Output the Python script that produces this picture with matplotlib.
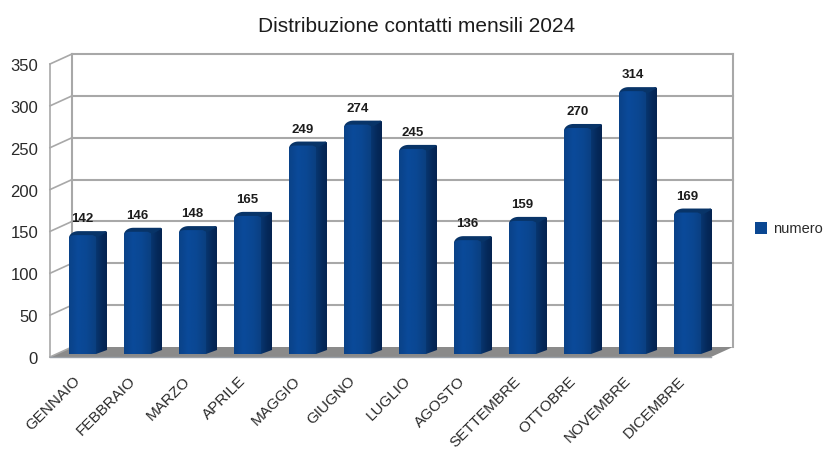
import numpy as np
import matplotlib
matplotlib.use("Agg")
import matplotlib.pyplot as plt
from matplotlib.colors import LinearSegmentedColormap
from matplotlib.patches import Polygon, Patch

mesi = ["GENNAIO", "FEBBRAIO", "MARZO", "APRILE", "MAGGIO", "GIUGNO", "LUGLIO",
        "AGOSTO", "SETTEMBRE", "OTTOBRE", "NOVEMBRE", "DICEMBRE"]
numero = [142, 146, 148, 165, 249, 274, 245, 136, 159, 270, 314, 169]
yticks = [0, 50, 100, 150, 200, 250, 300, 350]

plt.rcParams['font.family'] = ['Liberation Sans', 'DejaVu Sans']

W, H = 824, 449
fig = plt.figure(figsize=(W / 100, H / 100), dpi=100)
# axes run from the front axis corner to the back wall corner, in pixels
left, right, bottom, top = 50, 733, 357, 55
ax = fig.add_axes([left / W, 1 - bottom / H, (right - left) / W, (bottom - top) / H])

px_y = 293 / 350  # pixels per unit
px_x = 55.0       # pixels per category
xlim = ((left - 82.5) / px_x, (right - 82.5) / px_x)
ylim = (0, (bottom - top) / px_y)
ax.axis("off")

wall_dx = 22 / px_x
wall_dy = 10 / px_y
x0, x1 = xlim
grey = "#a8a8a8"

# floor
ax.add_patch(Polygon([(x0, 0), (x0 + wall_dx, wall_dy), (x1, wall_dy), (x1 - wall_dx, 0)],
                     closed=True, fc="#8a8a8a", ec="none", zorder=1))
# walls and grid
for t in yticks:
    ax.plot([x0, x0 + wall_dx], [t, t + wall_dy], color=grey, lw=1.2, zorder=2, clip_on=False)
    if t > 0:
        ax.plot([x0 + wall_dx, x1], [t + wall_dy, t + wall_dy], color=grey, lw=1.5, zorder=2, clip_on=False)
ax.plot([x0, x0], [0, 350], color=grey, lw=1.2, zorder=2, clip_on=False)
ax.plot([x0 + wall_dx, x0 + wall_dx], [wall_dy, 350 + wall_dy], color=grey, lw=1.5, zorder=2, clip_on=False)
ax.plot([x1, x1], [wall_dy, 350 + wall_dy], color=grey, lw=1.5, zorder=2, clip_on=False)
ax.plot([x0, x1 - wall_dx], [0, 0], color="#9aa0a8", lw=1.0, zorder=2, clip_on=False)

# bars
front = LinearSegmentedColormap.from_list("front", ["#0a4288", "#0a4a9a", "#0a4792", "#0a3f80"])
side = LinearSegmentedColormap.from_list("side", ["#083670", "#052a5c", "#042350"])
g = np.linspace(0, 1, 64).reshape(1, -1)
bw = 27 / px_x
bar_dx = 11 / px_x
bar_dy = 4 / px_y
base = 3 / px_y
for i, v in enumerate(numero):
    a, b = i - bw / 2, i + bw / 2
    y1 = base + v
    r = 3 / px_y
    # side face
    side_poly = Polygon([(b, base), (b + bar_dx, base + bar_dy), (b + bar_dx, y1 + bar_dy - r * 0.3),
                         (b + bar_dx - 0.03, y1 + bar_dy), (b, y1)],
                        closed=True, transform=ax.transData)
    im = ax.imshow(g, extent=(b, b + bar_dx, base, y1 + bar_dy), aspect="auto", cmap=side, zorder=3)
    im.set_clip_path(side_poly)
    # rounded cap
    t = np.linspace(0, np.pi / 2, 12)
    cap_x = a + 0.17 * (1 - np.cos(t))
    cap_y = y1 - r + (r + bar_dy) * np.sin(t)
    cap = list(zip(cap_x, cap_y)) + [(b + bar_dx - 0.03, y1 + bar_dy), (b + bar_dx, y1 + bar_dy - r * 0.3), (b, y1 - r)]
    ax.add_patch(Polygon(cap, closed=True, fc="#083468", ec="none", zorder=3))
    # front face with rounded shoulder
    front_poly = Polygon([(a, base)] + list(zip(a + 0.1 * (1 - np.cos(t)), y1 - r + r * np.sin(t)))
                         + [(b - 0.06, y1), (b, y1 - r * 0.5), (b, base)],
                        closed=True, transform=ax.transData)
    im = ax.imshow(g, extent=(a, b, base, y1), aspect="auto", cmap=front, zorder=4)
    im.set_clip_path(front_poly)
    ax.text(i, y1 + bar_dy + 6 / px_y, str(v), ha="center", va="bottom",
            fontsize=9.5, fontweight="bold", color="#1c1c1c", zorder=5)
ax.set_xlim(*xlim)
ax.set_ylim(*ylim)

for t in yticks:
    ax.text(x0 - 12 / px_x, t - 2.5 / px_y, str(t), ha="right", va="center", fontsize=12,
            color="#2a2a2a", clip_on=False)
for i, m in enumerate(mesi):
    ax.text(i - 0.17, -17 / px_y, m, rotation=45, ha="right", va="top", rotation_mode="anchor",
            fontsize=11, color="#2a2a2a", clip_on=False)

fig.text(417 / W, 1 - 27 / H, "Distribuzione contatti mensili 2024", ha="center", va="center",
         fontsize=15, color="#1c1c1c")
fig.legend(handles=[Patch(fc="#0a4792", ec="none", label="numero")], loc="center left",
           bbox_to_anchor=(745 / W, 1 - 229 / H), frameon=False, fontsize=10.5, handlelength=0.8,
           handleheight=0.8, handletextpad=0.4, borderpad=0.2, labelcolor="#2a2a2a")
fig.savefig("out.png", dpi=100)
